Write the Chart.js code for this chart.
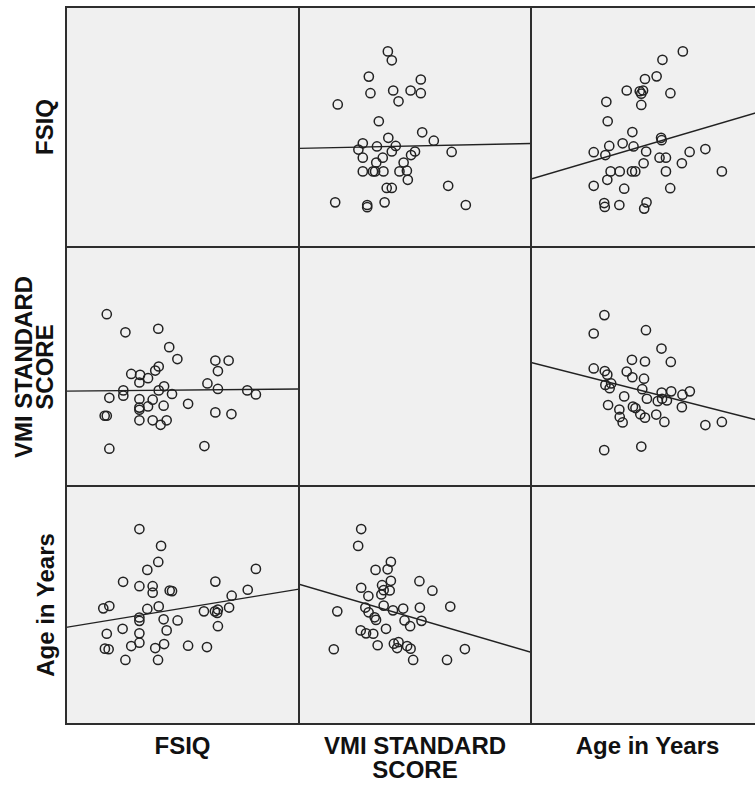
<!DOCTYPE html>
<html>
<head>
<meta charset="utf-8">
<script src="https://cdn.jsdelivr.net/npm/chart.js@4/dist/chart.umd.min.js"></script>
<style>
  html, body { margin: 0; padding: 0; background: #fff; }
  body { width: 755px; height: 789px; overflow: hidden; position: relative; }
  .cell { position: absolute; background: #f0f0f0; }
  .cell canvas { position: absolute; left: 0; top: 0; }
  .gl { position: absolute; background: #2e2e2e; }
  .lbl {
    position: absolute; font-family: 'Liberation Sans', Arial, sans-serif;
    font-weight: bold; font-size: 24px; color: #111; text-align: center;
    white-space: nowrap;
  }
  .rot { transform: translate(-50%, -50%) rotate(-90deg); line-height: 21px; }
  .hor { transform: translate(-50%, 0); line-height: 24px; }
</style>
</head>
<body>
<script>
// variable names and axis ranges
const varNames = ['FSIQ', 'VMI STANDARD SCORE', 'Age in Years'];
const fsiqRange = [50, 150];
const vmiRange = [50, 150];
const ageRange = [3, 15];

// FSIQ vs VMI pairs
const fsiqA = [67.5, 75.5, 89.6, 94.3, 97.8, 114.1, 119.8, 115.2, 89.8, 88.3, 78.0, 81.8, 85.2, 81.5,
  110.7, 92.1, 115.2, 127.8, 131.5, 74.6, 74.6, 68.6, 89.8, 95.5, 87.2, 81.5, 85.2, 81.5, 81.5,
  91.9, 102.4, 66.6, 67.5, 114.1, 121.0, 81.5, 87.2, 93.2, 90.6, 68.6, 109.4];
const vmiA = [121.9, 114.3, 115.8, 108.1, 103.1, 102.5, 102.5, 98.1, 100.0, 98.3, 96.9, 96.5, 95.1, 93.3,
  92.9, 91.7, 90.6, 90.0, 88.3, 90.0, 87.8, 86.9, 90.0, 88.5, 86.1, 86.4, 83.3, 82.8, 81.9,
  83.6, 84.4, 79.4, 79.4, 80.8, 80.1, 77.5, 77.5, 77.5, 75.6, 65.6, 66.7];

// FSIQ vs Age pairs
const fsiqB = [81.5, 90.8, 89.6, 84.9, 131.5, 74.5, 81.5, 114.1, 87.2, 87.2, 94.5, 95.5, 128.0, 121.1,
  66.0, 68.6, 84.9, 89.8, 109.2, 113.9, 115.2, 120.0, 81.5, 81.5, 91.9, 97.9, 74.3, 93.2, 115.2,
  67.5, 81.5, 78.0, 81.5, 92.1, 88.3, 102.4, 110.5, 66.7, 68.3, 75.5, 89.5, 114.9];
const ageB = [12.83, 11.98, 11.17, 10.77, 10.82, 10.17, 9.95, 10.18, 9.95, 9.62, 9.73, 9.70, 9.77, 9.47,
  8.83, 8.95, 8.80, 8.93, 8.68, 8.68, 8.77, 8.87, 8.37, 8.20, 8.28, 8.22, 7.80, 7.72, 7.93,
  7.55, 7.57, 6.93, 7.10, 7.03, 6.83, 6.95, 6.88, 6.80, 6.77, 6.23, 6.23, 8.60];

// VMI vs Age pairs
const vmiC = [76.8, 75.5, 89.6, 83.0, 88.2, 89.6, 101.9, 76.8, 85.8, 86.5, 89.1, 107.5, 79.9, 85.5,
  66.5, 78.6, 86.5, 90.5, 94.9, 102.1, 115.2, 80.0, 82.6, 83.2, 95.5, 97.9, 102.8, 87.5, 76.6,
  78.9, 82.0, 83.9, 90.9, 92.9, 92.3, 96.6, 98.1, 65.0, 99.2, 113.8, 121.5];
const ageC = [12.83, 11.98, 11.18, 10.77, 10.80, 10.22, 10.20, 9.87, 10.00, 9.75, 9.73, 9.72, 9.45, 9.53,
  8.68, 8.87, 8.97, 8.73, 8.82, 8.87, 8.92, 8.63, 8.38, 8.25, 8.22, 7.93, 8.20, 7.80, 7.72,
  7.57, 7.55, 6.97, 7.05, 7.13, 6.83, 6.93, 6.80, 6.77, 6.23, 6.23, 6.78];

// fit line values at the left and right ends of each cell
const fitFsiqOnVmi = [91.1, 93.1];
const fitFsiqOnAge = [78.3, 106.9];
const fitVmiOnFsiq = [89.7, 90.6];
const fitVmiOnAge = [101.7, 76.9];
const fitAgeOnFsiq = [7.87, 9.8];
const fitAgeOnVmi = [10.05, 6.62];

const colEdges = [66, 299, 531, 764];
const rowEdges = [7, 247, 486, 724];

function toPoints(xs, ys) {
    return xs.map((x, i) => ({ x: x, y: ys[i] }));
}

function makeCell(row, col, xRange, yRange, xs, ys, fit) {
    const div = document.createElement('div');
    div.className = 'cell';
    const w = colEdges[col + 1] - colEdges[col];
    const h = rowEdges[row + 1] - rowEdges[row];
    div.style.left = colEdges[col] + 'px';
    div.style.top = rowEdges[row] + 'px';
    div.style.width = w + 'px';
    div.style.height = h + 'px';
    document.body.appendChild(div);
    if (!xs) return;

    const canvas = document.createElement('canvas');
    canvas.width = w;
    canvas.height = h;
    canvas.style.width = w + 'px';
    canvas.style.height = h + 'px';
    div.appendChild(canvas);

    new Chart(canvas, {
        type: 'scatter',
        data: {
            datasets: [{
                data: toPoints(xs, ys),
                borderColor: '#222',
                backgroundColor: 'rgba(0,0,0,0)',
                pointRadius: 4.6,
                pointHoverRadius: 4.6,
                borderWidth: 1.5
            }, {
                type: 'line',
                data: [{ x: xRange[0], y: fit[0] }, { x: xRange[1], y: fit[1] }],
                borderColor: '#222',
                borderWidth: 1.4,
                pointRadius: 0,
                fill: false
            }]
        },
        options: {
            responsive: false,
            animation: false,
            layout: { padding: 0, autoPadding: false },
            plugins: { legend: { display: false }, tooltip: { enabled: false } },
            scales: {
                x: { type: 'linear', min: xRange[0], max: xRange[1], display: false },
                y: { type: 'linear', min: yRange[0], max: yRange[1], display: false }
            }
        }
    });
}

// row FSIQ
makeCell(0, 0, fsiqRange, fsiqRange, null);
makeCell(0, 1, vmiRange, fsiqRange, vmiA, fsiqA, fitFsiqOnVmi);
makeCell(0, 2, ageRange, fsiqRange, ageB, fsiqB, fitFsiqOnAge);
// row VMI
makeCell(1, 0, fsiqRange, vmiRange, fsiqA, vmiA, fitVmiOnFsiq);
makeCell(1, 1, vmiRange, vmiRange, null);
makeCell(1, 2, ageRange, vmiRange, ageC, vmiC, fitVmiOnAge);
// row Age
makeCell(2, 0, fsiqRange, ageRange, fsiqB, ageB, fitAgeOnFsiq);
makeCell(2, 1, vmiRange, ageRange, vmiC, ageC, fitAgeOnVmi);
makeCell(2, 2, ageRange, ageRange, null);

// grid lines
colEdges.forEach(x => {
    const d = document.createElement('div');
    d.className = 'gl';
    d.style.left = (x - 1) + 'px';
    d.style.top = (rowEdges[0] - 1) + 'px';
    d.style.width = '2px';
    d.style.height = (rowEdges[3] - rowEdges[0] + 2) + 'px';
    document.body.appendChild(d);
});
rowEdges.forEach(y => {
    const d = document.createElement('div');
    d.className = 'gl';
    d.style.left = (colEdges[0] - 1) + 'px';
    d.style.top = (y - 1) + 'px';
    d.style.width = (colEdges[3] - colEdges[0] + 2) + 'px';
    d.style.height = '2px';
    document.body.appendChild(d);
});

// labels
const leftLabels = ['FSIQ', 'VMI STANDARD<br>SCORE', 'Age in Years'];
const leftLabelX = [44, 34, 45];
const bottomLabels = ['FSIQ', 'VMI STANDARD<br>SCORE', 'Age in Years'];
leftLabels.forEach((t, i) => {
    const d = document.createElement('div');
    d.className = 'lbl rot';
    d.innerHTML = t;
    d.style.left = leftLabelX[i] + 'px';
    d.style.top = ((rowEdges[i] + rowEdges[i + 1]) / 2) + 'px';
    document.body.appendChild(d);
});
bottomLabels.forEach((t, j) => {
    const d = document.createElement('div');
    d.className = 'lbl hor';
    d.innerHTML = t;
    d.style.left = ((colEdges[j] + colEdges[j + 1]) / 2) + 'px';
    d.style.top = '734px';
    document.body.appendChild(d);
});
</script>
</body>
</html>
